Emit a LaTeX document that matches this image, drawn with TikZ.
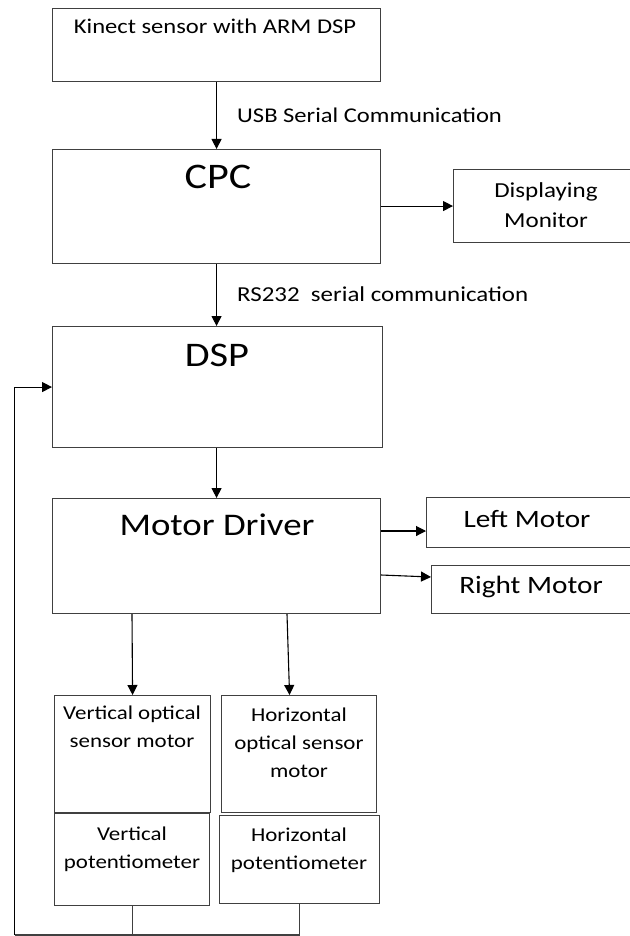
\documentclass[tikz,border=0pt]{standalone}
\usepackage{fontspec}
\setmainfont{Carlito}[FakeStretch=1.17]
\usetikzlibrary{arrows.meta}
\begin{document}
\begin{tikzpicture}[x=1pt,y=-1pt,
  box/.style={draw=black!75, line width=1.1pt, rectangle, inner sep=0pt, anchor=north west},
  arr/.style={draw=black, line width=1.1pt, -{Triangle[length=10pt,width=10pt]}},
  ln/.style={draw=black!75, line width=1.1pt},
  txt/.style={inner sep=0pt, anchor=base, align=center, font=\fontsize{19.6}{28}\selectfont},
  lbl/.style={inner sep=0pt, anchor=base west, font=\fontsize{21}{28}\selectfont},
  big/.style={inner sep=0pt, anchor=base, font=\fontsize{36}{40}\selectfont},
  mid/.style={inner sep=0pt, anchor=base, font=\fontsize{25}{30}\selectfont}]
\useasboundingbox (0,0) rectangle (629,936);
\fill[white] (0,0) rectangle (629,936);
% boxes
\node[box, minimum width=328pt, minimum height=73pt] (kin) at (52,8) {};
\node[box, minimum width=328pt, minimum height=114pt] (cpc) at (52,149) {};
\node[box, minimum width=190pt, minimum height=73pt] (disp) at (453,169) {};
\node[box, minimum width=330pt, minimum height=121pt] (dsp) at (52,326) {};
\node[box, minimum width=328pt, minimum height=115pt] (md) at (52,498) {};
\node[box, minimum width=210pt, minimum height=50pt] (lm) at (426,497) {};
\node[box, minimum width=210pt, minimum height=48pt] (rm) at (431,565) {};
\node[box, minimum width=156pt, minimum height=117pt] (vos) at (54,695) {};
\node[box, minimum width=155pt, minimum height=117pt] (hos) at (221,695) {};
\node[box, minimum width=155pt, minimum height=92pt] (vp) at (54,813) {};
\node[box, minimum width=160pt, minimum height=88pt] (hp) at (219,815) {};
% texts
\node[txt, font=\fontsize{21}{28}\selectfont] (tkin) at (215,34) {Kinect sensor with ARM DSP};
\node[lbl] (tusb) at (237,123) {USB Serial Communication};
\node[big] (tcpc) at (218,189) {CPC};
\node[txt, font=\fontsize{21.4}{30}\selectfont] (tdisp) at (546,227) {Displaying\\Monitor};
\node[lbl, font=\fontsize{21.3}{28}\selectfont] (trs) at (237,301) {RS232\ \ serial communication};
\node[big, font=\fontsize{34.5}{40}\selectfont] (tdsp) at (217,366) {DSP};
\node[big, font=\fontsize{31.5}{34}\selectfont] (tmd) at (217,535) {Motor Driver};
\node[mid] (tlm) at (527,527) {Left Motor};
\node[mid] (trm) at (531,593) {Right Motor};
\node[txt] (tvos) at (132,747) {Vertical optical\\sensor motor};
\node[txt] (thos) at (299,777) {Horizontal\\optical sensor\\motor};
\node[txt] (tvp) at (132,868) {Vertical\\potentiometer};
\node[txt] (thp) at (299,869) {Horizontal\\potentiometer};
% connectors
\draw[arr] (kin.south) -- (cpc.north);
\draw[arr] (cpc.south) -- (cpc.south |- dsp.north);
\draw[arr] (cpc.east |- disp.west) -- (disp.west);
\draw[arr] (dsp.south -| md.north) -- (md.north);
\draw[arr] ([yshift=-33pt]md.north east) -- ([yshift=-33pt]md.north east -| lm.west);
\draw[arr] ([yshift=-77pt]md.north east) -- ([yshift=-79pt]md.north east -| rm.west);
\draw[arr] ([xshift=80pt]md.south west) -- (vos.north);
\draw[arr] ([xshift=235pt]md.south west) -- ([xshift=-9.5pt]hos.north);
\coordinate (fb) at (14.5,935);
\draw[ln] (vp.south) -- (vp.south |- fb);
\draw[ln] (hp.south) -- (hp.south |- fb) -- (fb);
\draw[arr] (fb) |- (dsp.west);
\end{tikzpicture}
\end{document}
